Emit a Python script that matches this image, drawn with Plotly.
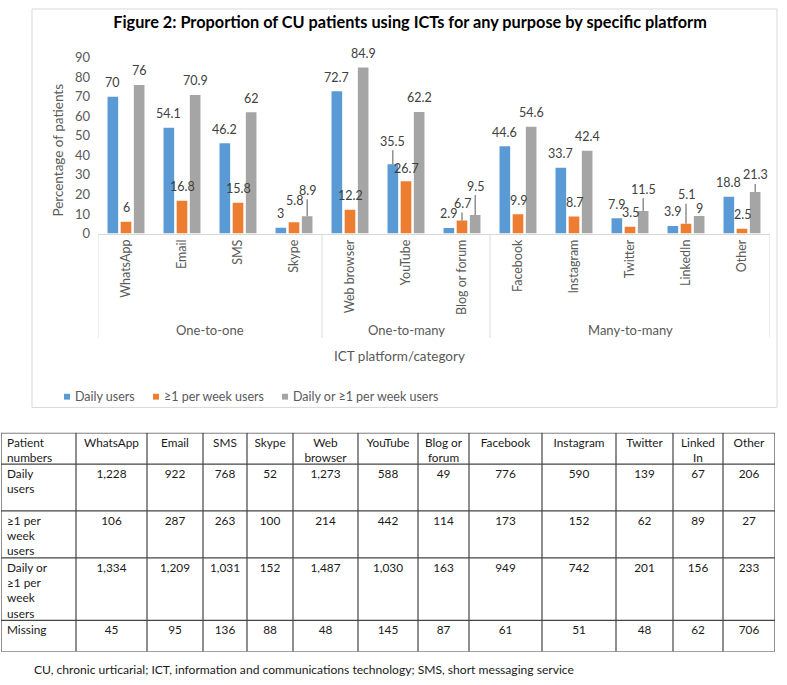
import plotly.graph_objects as go

# ---------------- data ----------------
categories = ["WhatsApp", "Email", "SMS", "Skype", "Web browser", "YouTube",
              "Blog or forum", "Facebook", "Instagram", "Twitter", "LinkedIn", "Other"]
groups = ["One-to-one", "One-to-many", "Many-to-many"]
group_sizes = [4, 3, 5]
series_names = ["Daily users", "≥1 per week users", "Daily or ≥1 per week users"]
daily = [70, 54.1, 46.2, 3, 72.7, 35.5, 2.9, 44.6, 33.7, 7.9, 3.9, 18.8]
weekly = [6, 16.8, 15.8, 5.8, 12.2, 26.7, 6.7, 9.9, 8.7, 3.5, 5.1, 2.5]
either = [76, 70.9, 62, 8.9, 84.9, 62.2, 9.5, 54.6, 42.4, 11.5, 9, 21.3]
y_ticks = [0, 10, 20, 30, 40, 50, 60, 70, 80, 90]

table_header = ["Patient<br>numbers", "WhatsApp", "Email", "SMS", "Skype", "Web<br>browser",
                "YouTube", "Blog or<br>forum", "Facebook", "Instagram", "Twitter", "Linked<br>In", "Other"]
row_labels = ["Daily<br>users", "≥1 per<br>week<br>users", "Daily or<br>≥1 per<br>week<br>users", "Missing"]
n_daily = ["1,228", "922", "768", "52", "1,273", "588", "49", "776", "590", "139", "67", "206"]
n_weekly = ["106", "287", "263", "100", "214", "442", "114", "173", "152", "62", "89", "27"]
n_either = ["1,334", "1,209", "1,031", "152", "1,487", "1,030", "163", "949", "742", "201", "156", "233"]
n_missing = ["45", "95", "136", "88", "48", "145", "87", "61", "51", "48", "62", "706"]

title_text = "Figure 2: Proportion of CU patients using ICTs for any purpose by specific platform"
footnote = "CU, chronic urticarial; ICT, information and communications technology; SMS, short messaging service"

# ---------------- style ----------------
W, H = 787, 685
FONT = "Lato"
colors = ["#5B9BD5", "#ED7D31", "#A5A5A5"]
bar_width = 0.19
bar_centers = [-0.235, 0.0, 0.235]
txt_grey = "#595959"
lbl_color = "#404040"
fs = 12.5


def px(x):
    return x / W


def py(y):
    return 1 - y / H


fig = go.Figure()
series = [daily, weekly, either]
xs = list(range(len(categories)))
for s, (name, vals) in enumerate(zip(series_names, series)):
    fig.add_trace(go.Bar(
        x=xs, y=vals, name=name, width=bar_width,
        offset=bar_centers[s] - bar_width / 2,
        marker=dict(color=colors[s], line=dict(width=0)),
        hoverinfo="y+name", showlegend=False,
    ))

# data labels (lift in px, leader line flag)
special = {(1, 3): (22, False), (2, 3): (26, True), (0, 5): (23, True),
           (1, 6): (17, True), (2, 6): (29, True), (2, 9): (22, True),
           (1, 10): (29, True), (2, 10): (7, False), (2, 11): (17, True),
           (1, 5): (13, False)}
annotations = []
for s, vals in enumerate(series):
    for i, v in enumerate(vals):
        lift, leader = special.get((s, i), (14, False))
        base = dict(x=i + bar_centers[s], y=v, xref="x", yref="y",
                    text=str(v), font=dict(family=FONT, size=fs, color=lbl_color))
        if leader:
            annotations.append(dict(base, showarrow=True, ax=0, ay=-lift, arrowhead=0,
                                    arrowwidth=1, arrowcolor="#595959", standoff=0))
        else:
            annotations.append(dict(base, showarrow=False, yshift=lift,
                                    xanchor="center", yanchor="middle"))

# group labels and dividers
shapes = []
start = -0.5
for g, n in zip(groups, group_sizes):
    annotations.append(dict(x=start + n / 2, y=py(330), xref="x", yref="paper", text=g,
                            xanchor="center", yanchor="middle", showarrow=False,
                            font=dict(family=FONT, size=13, color=txt_grey)))
    shapes.append(dict(type="line", xref="x", yref="paper", x0=start, x1=start,
                       y0=py(231), y1=py(338), line=dict(color="#D9D9D9", width=1)))
    start += n
shapes.append(dict(type="line", xref="x", yref="paper", x0=start, x1=start,
                   y0=py(231), y1=py(338), line=dict(color="#D9D9D9", width=1)))

# axis titles
annotations.append(dict(x=px(399), y=py(356), xref="paper", yref="paper", text="ICT platform/category",
                        xanchor="center", yanchor="middle", showarrow=False,
                        font=dict(family=FONT, size=13.5, color=txt_grey)))
annotations.append(dict(x=px(58), y=py(145), xref="paper", yref="paper", text="Percentage of patients",
                        textangle=-90, xanchor="center", yanchor="middle", showarrow=False,
                        font=dict(family=FONT, size=13.5, color=txt_grey)))

# custom legend
legend_x = [64, 153, 282]
for s, name in enumerate(series_names):
    x0 = legend_x[s]
    shapes.append(dict(type="rect", xref="paper", yref="paper", x0=px(x0), x1=px(x0 + 6),
                       y0=py(401), y1=py(395), fillcolor=colors[s], line=dict(width=0)))
    annotations.append(dict(x=px(x0 + 9), y=py(398), xref="paper", yref="paper", text=name,
                            xanchor="left", yanchor="middle", showarrow=False,
                            font=dict(family=FONT, size=fs, color=txt_grey)))

# chart frame
shapes.append(dict(type="rect", xref="paper", yref="paper", x0=px(32), x1=px(777),
                   y0=py(409), y1=py(1), line=dict(color="#D9D9D9", width=1)))

# ---------------- table ----------------
col_widths = [75, 71, 56, 44, 46, 65, 60, 51, 73, 74, 57, 50, 52]
row_heights = [32, 48, 48, 64, 32]
col_edges = [0]
for w_ in col_widths:
    col_edges.append(col_edges[-1] + w_)
row_edges = [0]
for h_ in row_heights:
    row_edges.append(row_edges[-1] + h_)

rows = [table_header] + [[lab] + vals for lab, vals in
                         zip(row_labels, [n_daily, n_weekly, n_either, n_missing])]
tx, ty, tt, tp = [], [], [], []
for r, row in enumerate(rows):
    for c, val in enumerate(row):
        if c == 0:
            tx.append(col_edges[c] + 6)
            tp.append("bottom right")
        else:
            tx.append((col_edges[c] + col_edges[c + 1]) / 2)
            tp.append("bottom center")
        ty.append(row_edges[r] + 5)
        tt.append(val)
fig.add_trace(go.Scatter(x=tx, y=ty, text=tt, mode="text", textposition=tp,
                         textfont=dict(family=FONT, size=11.8, color="#1a1a1a"),
                         xaxis="x2", yaxis="y2", showlegend=False, hoverinfo="skip"))
for e in col_edges:
    shapes.append(dict(type="line", xref="x2", yref="y2", x0=e, x1=e, y0=0, y1=row_edges[-1],
                       line=dict(color="#444444", width=1.2)))
for e in row_edges:
    shapes.append(dict(type="line", xref="x2", yref="y2", x0=0, x1=col_edges[-1], y0=e, y1=e,
                       line=dict(color="#444444", width=1.2)))

annotations.append(dict(x=px(32), y=py(677), xref="paper", yref="paper", text=footnote,
                        xanchor="left", yanchor="middle", showarrow=False,
                        font=dict(family=FONT, size=12.1, color="#1a1a1a")))

fig.update_layout(
    width=W, height=H, margin=dict(l=0, r=0, t=0, b=0),
    paper_bgcolor="white", plot_bgcolor="white",
    barmode="overlay", showlegend=False,
    title=dict(text="<b>" + title_text + "</b>", x=px(410), y=py(22), xanchor="center", yanchor="middle",
               font=dict(family=FONT, size=16.3, color="#000000")),
    font=dict(family=FONT, size=fs, color=txt_grey),
    xaxis=dict(domain=[px(98), px(770)], range=[-0.5, 11.5], tickvals=xs, ticktext=categories,
               tickangle=-90, showline=True, linecolor="#D9D9D9", showgrid=False, zeroline=False,
               ticks="", tickfont=dict(family=FONT, size=fs, color=txt_grey), fixedrange=True),
    yaxis=dict(domain=[py(231), py(50.7)], range=[0, 90], tickvals=y_ticks, showgrid=False,
               zeroline=False, showline=False, ticks="", ticklabelstandoff=7,
               tickfont=dict(family=FONT, size=13, color=txt_grey), fixedrange=True),
    xaxis2=dict(domain=[px(1), px(775)], range=[0, col_edges[-1]], visible=False, fixedrange=True),
    yaxis2=dict(domain=[py(659), py(435)], range=[row_edges[-1], 0], visible=False, fixedrange=True),
    shapes=shapes, annotations=annotations,
)

fig.write_html("out.html", config={"displayModeBar": False},
               post_script="document.body.style.margin='0';")
